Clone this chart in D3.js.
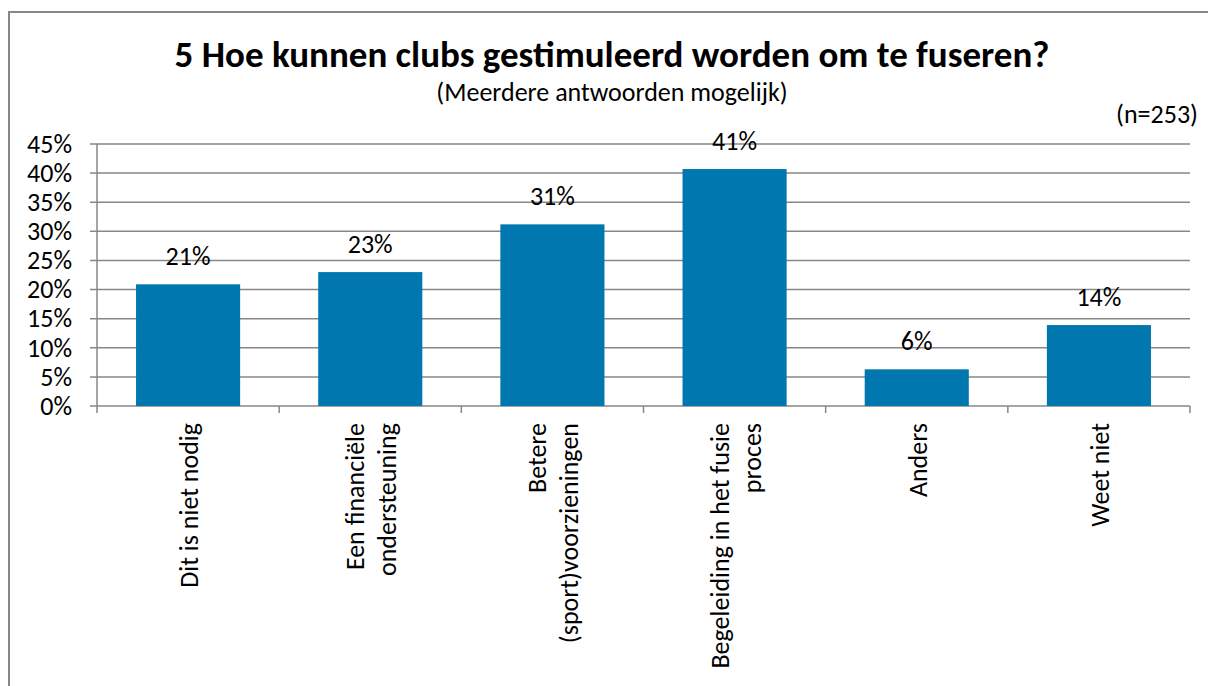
<!DOCTYPE html>
<html>
<head>
<meta charset="utf-8">
<script src="https://cdn.jsdelivr.net/npm/d3@7"></script>
<style>
  html, body { margin: 0; padding: 0; background: #fff; }
  svg { display: block; font-family: Calibri, Carlito, Lato, sans-serif; }
</style>
</head>
<body>
<div id="chart"></div>
<script>
// data
var categories = ["Dit is niet nodig", "Een financiële ondersteuning", "Betere (sport)voorzieningen",
                  "Begeleiding in het fusie proces", "Anders", "Weet niet"];
var categoryLines = [["Dit is niet nodig"], ["Een financiële", "ondersteuning"], ["Betere", "(sport)voorzieningen"],
                     ["Begeleiding in het fusie", "proces"], ["Anders"], ["Weet niet"]];
var values = [20.9, 23.0, 31.2, 40.7, 6.3, 13.9];
var valueLabels = ["21%", "23%", "31%", "41%", "6%", "14%"];
var yTicks = [0, 5, 10, 15, 20, 25, 30, 35, 40, 45];

var mainTitle = "5 Hoe kunnen clubs gestimuleerd worden om te fuseren?";
var subTitle = "(Meerdere antwoorden mogelijk)";
var nNote = "(n=253)";

var W = 1208, H = 686;
var margin = {left: 97, right: 18, top: 144, bottom: 280};
var gridColor = "#878787";
var barColor = "#0077ae";
var fontSize = "26px";

var svg = d3.select("#chart").append("svg")
    .attr("width", W).attr("height", H);

// outer frame
svg.append("rect")
    .attr("x", 9).attr("y", 12)
    .attr("width", W + 20).attr("height", H + 20)
    .attr("fill", "none").attr("stroke", gridColor).attr("stroke-width", 2);

var plotW = W - margin.left - margin.right;
var plotH = H - margin.top - margin.bottom;

var x = d3.scaleBand().domain(categories).range([0, plotW]).paddingInner(0.75 / 1.75).paddingOuter(0.75 / 1.75 / 2);
var xb = d3.scaleBand().domain(categories).range([0, plotW]);
var y = d3.scaleLinear().domain([0, 45]).range([plotH, 0]);

var g = svg.append("g").attr("transform", "translate(" + margin.left + "," + margin.top + ")");

// grid lines
g.selectAll("line.grid").data(yTicks).enter().append("line")
    .attr("class", "grid")
    .attr("x1", -7).attr("x2", plotW)
    .attr("y1", function(d) { return y(d); }).attr("y2", function(d) { return y(d); })
    .attr("stroke", gridColor).attr("stroke-width", 1.5);

// y axis
var yax = g.append("g").call(d3.axisLeft(y).tickValues(yTicks).tickSize(7).tickPadding(18)
    .tickFormat(function(d) { return d + "%"; }));
yax.attr("font-family", null).attr("font-size", null);
yax.select(".domain").remove();
yax.selectAll("line").remove();
yax.selectAll("text").attr("fill", "#000").style("font-size", fontSize);
g.append("line").attr("x1", 0).attr("x2", 0).attr("y1", 0).attr("y2", plotH + 7)
    .attr("stroke", gridColor).attr("stroke-width", 1.5);

// x tick marks at category boundaries
var bounds = categories.map(function(c) { return xb(c) + xb.bandwidth(); });
g.selectAll("line.xtick").data(bounds).enter().append("line")
    .attr("x1", function(d) { return d; }).attr("x2", function(d) { return d; })
    .attr("y1", plotH).attr("y2", plotH + 7)
    .attr("stroke", gridColor).attr("stroke-width", 1.5);

// bars
g.selectAll("rect.bar").data(values).enter().append("rect")
    .attr("class", "bar")
    .attr("x", function(d, i) { return x(categories[i]); })
    .attr("width", x.bandwidth())
    .attr("y", function(d) { return y(d); })
    .attr("height", function(d) { return plotH - y(d); })
    .attr("fill", barColor);

// value labels
g.selectAll("text.val").data(values).enter().append("text")
    .attr("x", function(d, i) { return xb(categories[i]) + xb.bandwidth() / 2; })
    .attr("y", function(d) { return y(d) - 19; })
    .attr("text-anchor", "middle")
    .style("font-size", fontSize)
    .text(function(d, i) { return valueLabels[i]; });

// category labels, rotated
var lineGap = 32;
categoryLines.forEach(function(lines, i) {
  var cx = xb(categories[i]) + xb.bandwidth() / 2;
  lines.forEach(function(line, j) {
    var bx = cx + 10 + (j - (lines.length - 1) / 2) * lineGap;
    g.append("text")
      .attr("transform", "translate(" + bx + "," + (plotH + 17) + ") rotate(-90)")
      .attr("text-anchor", "end")
      .style("font-size", fontSize)
      .text(line);
  });
});

// titles
svg.append("text").attr("x", 612).attr("y", 67).attr("text-anchor", "middle")
    .style("font-size", "37px").style("font-weight", "bold").text(mainTitle);
svg.append("text").attr("x", 612).attr("y", 101).attr("text-anchor", "middle")
    .style("font-size", fontSize).text(subTitle);
svg.append("text").attr("x", 1198).attr("y", 123).attr("text-anchor", "end")
    .style("font-size", fontSize).text(nNote);
</script>
</body>
</html>
